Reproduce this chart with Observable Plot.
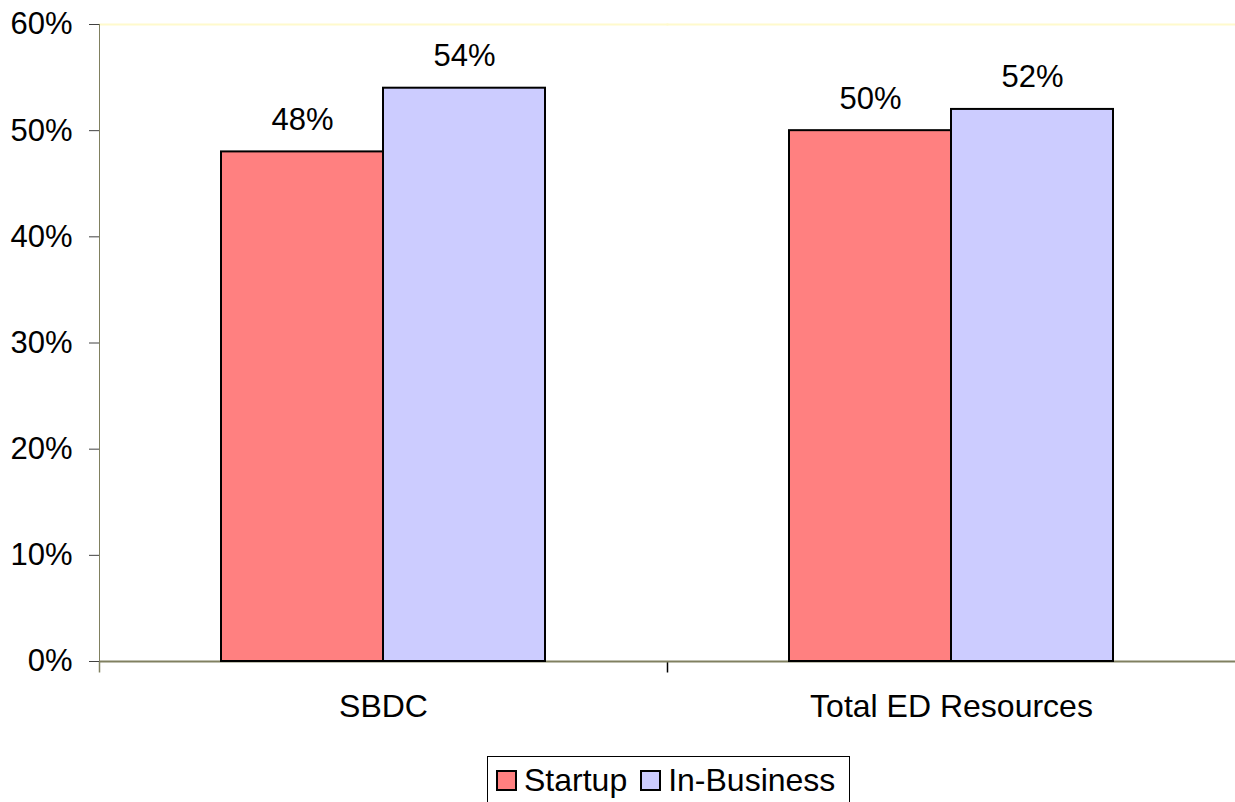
<!DOCTYPE html>
<html>
<head>
<meta charset="utf-8">
<script src="https://cdn.jsdelivr.net/npm/d3@7"></script>
<script src="https://cdn.jsdelivr.net/npm/@observablehq/plot@0.6"></script>
<style>
  html, body { margin: 0; padding: 0; background: #fff; }
  body { font-family: "Liberation Sans", Arial, sans-serif; width: 1235px; height: 802px; overflow: hidden; }
  #legend {
    box-sizing: border-box;
    margin: 16px 0 0 487px;
    width: 363px; height: 48px;
    border: 1px solid #000;
    display: flex; align-items: center;
    padding-left: 8px;
    font-size: 32px; color: #000;
    white-space: nowrap; overflow: visible;
  }
  #legend .item { display: flex; align-items: center; margin-right: 13px; flex-shrink: 0; white-space: nowrap; }
  #legend .sw { box-sizing: border-box; width: 21px; height: 21px; border: 2px solid #000; margin-right: 7px; flex-shrink: 0; }
</style>
</head>
<body>
<div id="chart"></div>
<script>
const categories = ["SBDC", "Total ED Resources"];
const series = ["Startup", "In-Business"];
const startupValues = [0.48, 0.50];
const inBusinessValues = [0.54, 0.52];
const colors = ["#ff8080", "#ccccff"];
const yTicks = [0, 0.1, 0.2, 0.3, 0.4, 0.5, 0.6];

const data = [];
categories.forEach((c, i) => {
  data.push({category: c, series: series[0], value: startupValues[i]});
  data.push({category: c, series: series[1], value: inBusinessValues[i]});
});

const pct = d3.format(".0%");
const font = "Liberation Sans, Arial, sans-serif";

// short vertical tick symbol hanging below an anchor point
const downTick = { draw(ctx) { ctx.moveTo(0, 0); ctx.lineTo(0, 11); } };

const chart = Plot.plot({
  width: 1235,
  height: 740,
  marginTop: 24,
  marginBottom: 79,
  marginLeft: 99,
  marginRight: 0,
  style: { fontFamily: font, background: "#fff", color: "#000" },
  fx: { domain: categories, padding: 0, label: null },
  x: { domain: series, paddingInner: 0, paddingOuter: 0.753, axis: null },
  y: { domain: [0, 0.6], label: null },
  color: { domain: series, range: colors },
  marks: [
    Plot.frame({ anchor: "top", stroke: "#fffacc", strokeWidth: 2 }),
    Plot.frame({ anchor: "left", facetAnchor: "left", stroke: "#808060" }),
    Plot.dot([categories[0]], { fx: d => d, frameAnchor: "bottom-left", symbol: downTick, stroke: "#808060", fill: "none" }),
    Plot.dot([categories[0]], { fx: d => d, frameAnchor: "bottom-right", symbol: downTick, stroke: "#000", fill: "none", strokeWidth: 1.5 }),
    Plot.ruleY([0], { stroke: "#808060", strokeWidth: 2 }),
    Plot.axisY({ ticks: yTicks, tickFormat: pct, tickSize: 10, tickPadding: 17, fontSize: 31, stroke: "#404040", label: null }),
    Plot.axisFx({ anchor: "bottom", tickSize: 0, tickPadding: 33, fontSize: 32, label: null }),
    Plot.barY(data, { fx: "category", x: "series", y: "value", fill: "series", stroke: "#000", strokeWidth: 2 }),
    Plot.text(data, { fx: "category", x: "series", y: "value", text: d => pct(d.value), dy: -32, fontSize: 31, fill: "#000" })
  ]
});
document.getElementById("chart").appendChild(chart);

const legend = document.createElement("div");
legend.id = "legend";
series.forEach((s, i) => {
  const item = document.createElement("span");
  item.className = "item";
  const sw = document.createElement("span");
  sw.className = "sw";
  sw.style.background = colors[i];
  const t = document.createElement("span");
  t.textContent = s;
  item.appendChild(sw);
  item.appendChild(t);
  legend.appendChild(item);
});
document.body.appendChild(legend);
</script>
</body>
</html>
